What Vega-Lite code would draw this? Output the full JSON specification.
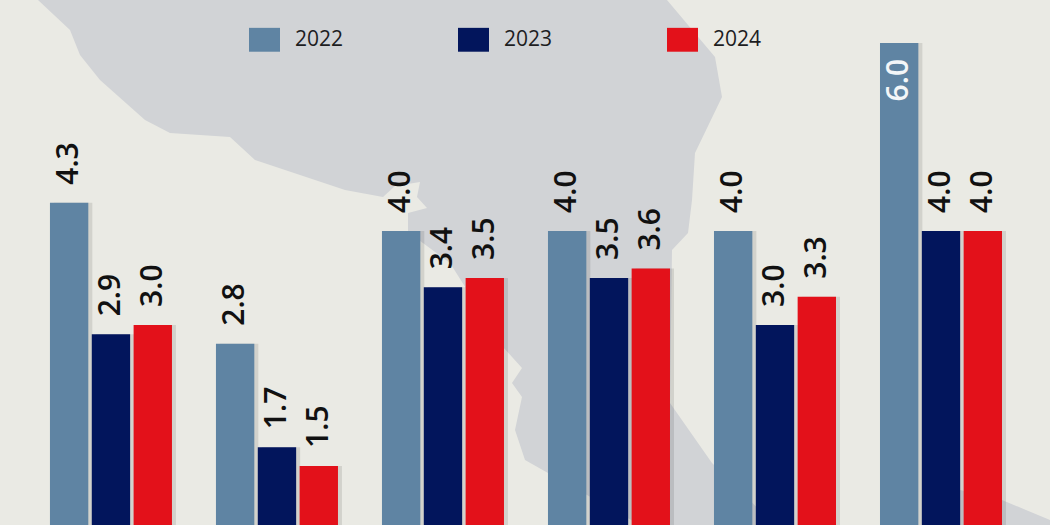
{"$schema":"https://vega.github.io/schema/vega-lite/v6.json","width":1050,"height":525,"autosize":{"type":"fit","contains":"padding"},"padding":0,"background":"#eaeae4","view":{"stroke":null},"config":{"font":"Open Sans"},"resolve":{"scale":{"x":"independent","xOffset":"independent"}},"datasets":{"bars":[{"group":"A","year":"2022","value":4.3},{"group":"A","year":"2023","value":2.9},{"group":"A","year":"2024","value":3.0},{"group":"B","year":"2022","value":2.8},{"group":"B","year":"2023","value":1.7},{"group":"B","year":"2024","value":1.5},{"group":"C","year":"2022","value":4.0},{"group":"C","year":"2023","value":3.4},{"group":"C","year":"2024","value":3.5},{"group":"D","year":"2022","value":4.0},{"group":"D","year":"2023","value":3.5},{"group":"D","year":"2024","value":3.6},{"group":"E","year":"2022","value":4.0},{"group":"E","year":"2023","value":3.0},{"group":"E","year":"2024","value":3.3},{"group":"F","year":"2022","value":6.0},{"group":"F","year":"2023","value":4.0},{"group":"F","year":"2024","value":4.0}]},"layer":[{"data":{"values":{"type":"Feature","properties":{},"geometry":{"type":"MultiPolygon","coordinates":[[[[-106.2,30],[-103,27],[-102,24.5],[-100,22],[-95.5,18],[-93,16.7],[-87,16.3],[-84.5,14],[-80,12.5],[-75.5,11],[-71.7,10.3],[-70.5,11.4],[-68,11.8],[-68.3,10.3],[-67.3,9.2],[-69.2,8.7],[-69.2,6.8],[-65,3.7],[-59.7,-4.7],[-57.8,-6.8],[-58.8,-8.3],[-57.8,-9.7],[-58.5,-13],[-57.5,-16],[-55.2,-17.3],[-46,-22.5],[-46,-25],[-30,-25],[-38.8,-16.3],[-43,-10.3],[-42.8,5],[-41.2,6.7],[-40.8,10],[-40.5,14.7],[-37.8,20.3],[-38.5,24.3],[-43.3,30],[-106.2,30]]],[[[-14,-19],[-9.8,-20],[-5,-22],[-4,-25],[-15,-25],[-14,-19]]]]}},"format":{"type":"json"}},"projection":{"type":"identity","reflectY":true,"scale":10,"translate":[1100,300]},"mark":{"type":"geoshape","fill":"#d1d3d6","stroke":null,"clip":true}},{"data":{"name":"bars"},"mark":{"type":"bar","clip":true,"fill":"#000000","opacity":0.1},"encoding":{"x":{"field":"group","type":"nominal","sort":null,"axis":null,"scale":{"domain":["A","B","C","D","E","F"],"paddingInner":0.265,"paddingOuter":0.295,"align":0.551}},"xOffset":{"field":"year","type":"nominal","scale":{"domain":["2022","2023","2024"],"paddingInner":0.083,"paddingOuter":0}},"y":{"field":"value","type":"quantitative","axis":null,"scale":{"domain":[0.872,6.457],"nice":false,"zero":false}}}},{"data":{"name":"bars"},"mark":{"type":"bar","clip":true},"encoding":{"x":{"field":"group","type":"nominal","sort":null,"axis":null,"scale":{"domain":["A","B","C","D","E","F"],"paddingInner":0.265,"paddingOuter":0.295,"align":0.51}},"xOffset":{"field":"year","type":"nominal","scale":{"domain":["2022","2023","2024"],"paddingInner":0.083,"paddingOuter":0}},"y":{"field":"value","type":"quantitative","axis":null},"color":{"field":"year","type":"nominal","scale":{"domain":["2022","2023","2024"],"range":["#5f84a3","#02155c","#e3111a"]},"legend":{"title":null,"orient":"none","legendX":249,"legendY":24,"direction":"horizontal","symbolType":"M-1,-0.77H1V0.77H-1Z","symbolSize":961,"symbolStrokeWidth":0,"symbolOpacity":1,"labelFontSize":21,"labelFont":"Open Sans","labelColor":"#1d1d1f","labelOffset":15,"columnPadding":114}}}},{"data":{"name":"bars"},"transform":[{"filter":"datum.value < 6"}],"mark":{"type":"text","angle":270,"align":"left","baseline":"middle","dx":18,"fontSize":30,"fontWeight":600,"font":"Open Sans","fill":"#111111"},"encoding":{"x":{"field":"group","type":"nominal","sort":null,"axis":null,"scale":{"domain":["A","B","C","D","E","F"],"paddingInner":0.265,"paddingOuter":0.295,"align":0.51}},"xOffset":{"field":"year","type":"nominal","scale":{"type":"point","domain":["2022","2023","2024"],"padding":0.458}},"y":{"field":"value","type":"quantitative","axis":null},"text":{"field":"value","type":"quantitative","format":".1f"}}},{"data":{"name":"bars"},"transform":[{"filter":"datum.value >= 6"}],"mark":{"type":"text","angle":270,"align":"right","baseline":"middle","dx":-16,"fontSize":30,"fontWeight":600,"font":"Open Sans","fill":"#f3f6f8"},"encoding":{"x":{"field":"group","type":"nominal","sort":null,"axis":null,"scale":{"domain":["A","B","C","D","E","F"],"paddingInner":0.265,"paddingOuter":0.295,"align":0.51}},"xOffset":{"field":"year","type":"nominal","scale":{"type":"point","domain":["2022","2023","2024"],"padding":0.458}},"y":{"field":"value","type":"quantitative","axis":null},"text":{"field":"value","type":"quantitative","format":".1f"}}}]}
